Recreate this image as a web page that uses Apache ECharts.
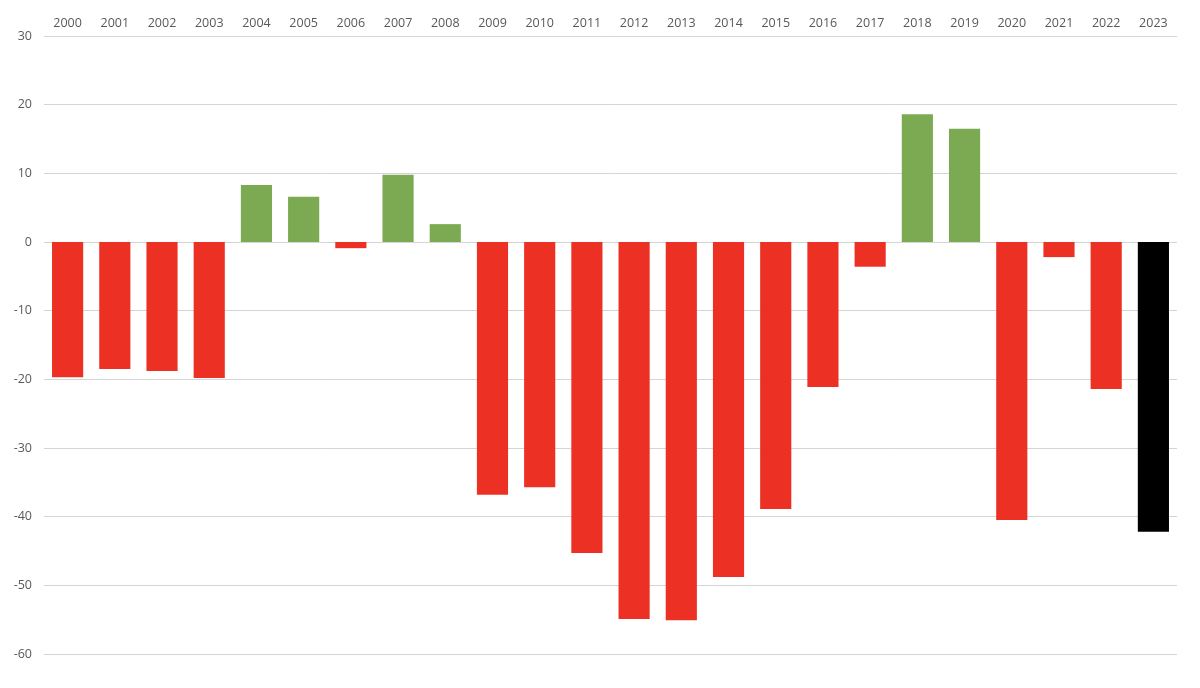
<!DOCTYPE html>
<html>
<head>
<meta charset="utf-8">
<script src="https://cdn.jsdelivr.net/npm/echarts@6/dist/echarts.min.js"></script>
<style>html,body{margin:0;padding:0;background:#fff}#c{width:1200px;height:688px}</style>
</head>
<body>
<div id="c"></div>
<script>
var years = ['2000','2001','2002','2003','2004','2005','2006','2007','2008','2009','2010','2011','2012','2013','2014','2015','2016','2017','2018','2019','2020','2021','2022','2023'];
var values = [-19.7,-18.5,-18.8,-19.8,8.3,6.6,-0.9,9.8,2.6,-36.8,-35.7,-45.3,-54.9,-55.1,-48.8,-38.9,-21.1,-3.6,18.6,16.5,-40.5,-2.2,-21.4,-42.2];
var yTicks = [-60,-50,-40,-30,-20,-10,0,10,20,30];

var RED = '#EC3124', GREEN = '#7BAA52', BLACK = '#000000';
var chart = echarts.init(document.getElementById('c'));
chart.setOption({
  animation: false,
  backgroundColor: '#fff',
  grid: {left: 44, right: 23, top: 36, bottom: 34, containLabel: false},
  xAxis: {
    type: 'category',
    data: years,
    position: 'top',
    axisLine: {show: false, onZero: false},
    axisTick: {show: false},
    axisLabel: {color: '#595959', fontSize: 12.5, fontFamily: 'Open Sans', margin: 6}
  },
  yAxis: {
    type: 'value',
    min: yTicks[0],
    max: yTicks[yTicks.length - 1],
    interval: 10,
    axisLine: {show: false},
    axisTick: {show: false},
    axisLabel: {color: '#595959', fontSize: 12.5, fontFamily: 'Open Sans', margin: 12},
    splitLine: {lineStyle: {color: '#D5D5D5', width: 1}}
  },
  series: [{
    type: 'bar',
    data: values,
    barCategoryGap: '34%',
    itemStyle: {
      color: function (p) {
        if (p.dataIndex === values.length - 1) return BLACK;
        return p.value >= 0 ? GREEN : RED;
      }
    }
  }]
});
</script>
</body>
</html>
